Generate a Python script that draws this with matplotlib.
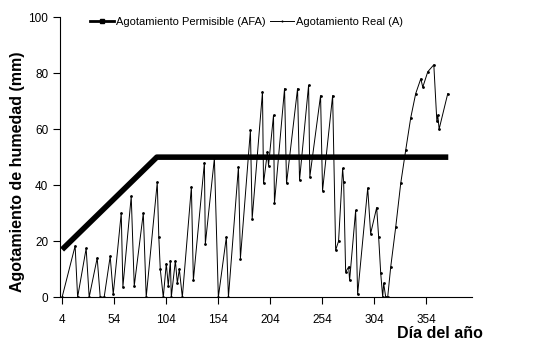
import matplotlib.pyplot as plt
from matplotlib.lines import Line2D

plt.rcParams['font.family'] = ['Liberation Sans', 'DejaVu Sans']

# Agotamiento permisible (AFA)
dia_afa = [4, 95, 375]
afa = [17, 50, 50]

# Agotamiento real (A)
dia_real = [4, 16.5, 18.9, 27.1, 30, 37.7, 40.6, 44.4, 50.2, 53.1, 60.8, 62.4,
            70.4, 73.3, 82, 84.8, 95.4, 96.9, 98.3, 101.2, 104.1, 106, 108, 108.9,
            112.8, 114.7, 116.6, 119.5, 128.2, 130.1, 140.7, 141.6, 150.3, 154.1,
            161.8, 163.8, 173.4, 175.3, 184.9, 186.6, 196.5, 197.5, 201.3, 202.3,
            207.1, 208, 217.7, 219.6, 230.2, 232.1, 240.8, 242, 252.3, 254.2,
            263.9, 266.8, 269.6, 273.5, 274.5, 276.4, 279.3, 280.2, 286, 287.9,
            297.6, 300.4, 306.2, 308.1, 310.1, 312, 312.9, 314.9, 316.8, 319.7,
            324.5, 329.3, 334.1, 338.9, 343.7, 348.6, 350.5, 355.3, 361.1, 364,
            364.9, 366.2, 374.5]
real = [0, 18.3, 0, 17.4, 0, 14, 0, 0, 14.6, 1, 30, 3.7,
        36, 4, 30, 0, 41, 21.5, 10, 0, 12, 4, 13, 0,
        13, 5, 10, 0, 39.4, 6, 48, 19, 49.6, 0,
        21.5, 0, 46.5, 13.8, 59.6, 28, 73.3, 40.6, 52, 47,
        65, 33.5, 74.5, 40.6, 74.5, 41.8, 75.7, 43, 72, 38,
        72, 16.8, 20, 46, 41, 9, 10.8, 6, 31, 1,
        39, 22.7, 32, 21.5, 8.5, 0, 5, 0, 0, 10.8,
        25, 40.6, 52.5, 64, 72.7, 78, 75, 80.5, 83, 63,
        65, 60, 72.7]

xticks = [4, 54, 104, 154, 204, 254, 304, 354]
yticks = [0, 20, 40, 60, 80, 100]

fig = plt.figure(figsize=(5.36, 3.5), dpi=100)
ax = fig.add_axes([0.112, 0.151, 0.769, 0.8])

ax.plot(dia_afa, afa, color='black', lw=4, solid_capstyle='butt')
ax.plot(dia_real, real, color='black', lw=0.7, marker='.', markersize=2)

ax.set_xlim(2, 398)
ax.set_ylim(0, 100)
ax.set_xticks(xticks)
ax.set_yticks(yticks)
ax.spines['top'].set_visible(False)
ax.spines['right'].set_visible(False)
ax.tick_params(direction='out', length=5, width=0.8, labelsize=8.5)
ax.tick_params(axis='x', pad=7)

fig.text(18 / 536, 1 - 172 / 350, 'Agotamiento de humedad (mm)', rotation=90,
         ha='center', va='center', fontsize=11.5, fontweight='bold')
fig.text(483 / 536, 1 - 333 / 350, 'Día del año', ha='right', va='center',
         fontsize=11.5, fontweight='bold')

h1 = Line2D([], [], color='black', lw=2, marker='s', markersize=3)
h2 = Line2D([], [], color='black', lw=0.7, marker='|', markersize=2)
ax.legend([h1, h2], ['Agotamiento Permisible (AFA)', 'Agotamiento Real (A)'],
          ncol=2, frameon=False, fontsize=8, loc='upper left',
          bbox_to_anchor=(84 / 536, 1 - 11 / 350), bbox_transform=fig.transFigure,
          handlelength=2.2, handletextpad=0.15, columnspacing=0.4, borderpad=0)

fig.savefig('out.png', dpi=100)
